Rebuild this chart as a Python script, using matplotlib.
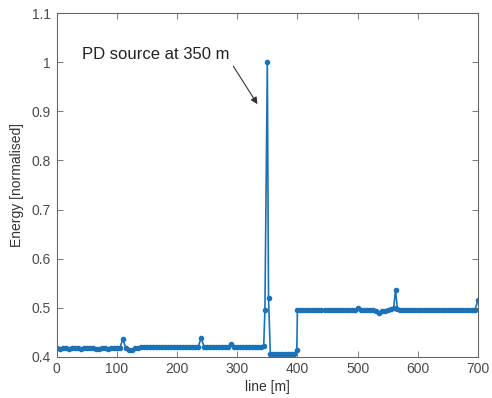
import matplotlib
matplotlib.use("Agg")
import matplotlib.pyplot as plt

plt.rcParams['font.family'] = ['Liberation Sans', 'DejaVu Sans']

# distance along line [m]
line_m = [0, 5, 10, 15, 20, 25, 30, 35, 40, 45, 50, 55, 60, 65, 70, 75, 80, 85, 90, 95,
          100, 105, 110, 115, 120, 125, 130, 135, 140, 145, 150, 155, 160, 165, 170, 175,
          180, 185, 190, 195, 200, 205, 210, 215, 220, 225, 230, 235, 240, 245, 250, 255,
          260, 265, 270, 275, 280, 285, 290, 295, 300, 305, 310, 315, 320, 325, 330, 335,
          340, 344, 346, 350, 352, 355, 360, 365, 370, 375, 380, 385, 390, 395, 399, 400,
          405, 410, 415, 420, 425, 430, 435, 440, 445, 450, 455, 460, 465, 470, 475, 480,
          485, 490, 495, 500, 505, 510, 515, 520, 525, 530, 535, 540, 545, 550, 555, 560,
          563, 566, 570, 575, 580, 585, 590, 595, 600, 605, 610, 615, 620, 625, 630, 635,
          640, 645, 650, 655, 660, 665, 670, 675, 680, 685, 690, 695, 700]

# normalised energy
energy = [0.417, 0.416, 0.417, 0.417, 0.416, 0.417, 0.417, 0.417, 0.416, 0.417, 0.418, 0.417,
          0.417, 0.416, 0.416, 0.417, 0.417, 0.416, 0.417, 0.417, 0.417, 0.418, 0.436, 0.417,
          0.413, 0.414, 0.417, 0.418, 0.419, 0.419, 0.419, 0.420, 0.419, 0.419, 0.419, 0.419,
          0.419, 0.419, 0.420, 0.419, 0.419, 0.419, 0.419, 0.419, 0.419, 0.419, 0.419, 0.420,
          0.438, 0.420, 0.419, 0.419, 0.419, 0.419, 0.419, 0.419, 0.419, 0.419, 0.425, 0.420,
          0.420, 0.420, 0.420, 0.420, 0.420, 0.420, 0.420, 0.420, 0.420, 0.421, 0.496, 1.000,
          0.520, 0.406, 0.405, 0.405, 0.405, 0.405, 0.405, 0.405, 0.405, 0.406, 0.414, 0.495,
          0.495, 0.495, 0.495, 0.495, 0.495, 0.495, 0.495, 0.495, 0.495, 0.495, 0.495, 0.495,
          0.495, 0.495, 0.495, 0.495, 0.495, 0.495, 0.495, 0.500, 0.495, 0.495, 0.495, 0.495,
          0.495, 0.494, 0.490, 0.493, 0.494, 0.495, 0.497, 0.500, 0.536, 0.498, 0.495, 0.495,
          0.495, 0.495, 0.495, 0.495, 0.495, 0.495, 0.495, 0.495, 0.495, 0.495, 0.495, 0.495,
          0.495, 0.495, 0.495, 0.495, 0.495, 0.495, 0.495, 0.495, 0.495, 0.495, 0.495, 0.496,
          0.515]

x_ticks = [0, 100, 200, 300, 400, 500, 600, 700]
y_ticks = [0.4, 0.5, 0.6, 0.7, 0.8, 0.9, 1.0, 1.1]
y_tick_labels = ['0.4', '0.5', '0.6', '0.7', '0.8', '0.9', '1', '1.1']

fig = plt.figure(figsize=(4.92, 3.98), dpi=100)
ax = fig.add_axes([0.1152, 0.1038, 0.8563, 0.8628])

ax.plot(line_m, energy, '.-', color='#1a72b8', lw=1.2, ms=6)

ax.set_xlim(0, 700)
ax.set_ylim(0.4, 1.1)
ax.set_xticks(x_ticks)
ax.set_yticks(y_ticks)
ax.set_yticklabels(y_tick_labels)

axis_col = '#666666'
for s in ax.spines.values():
    s.set_color(axis_col)
    s.set_linewidth(0.8)
ax.tick_params(direction='in', length=4, width=0.6, color=axis_col, labelcolor='#4a4a4a',
               labelsize=10, top=True, right=True, pad=4)

ax.set_xlabel('line [m]', fontsize=10, color='#333333', labelpad=3)
ax.set_ylabel('Energy [normalised]', fontsize=10, color='#333333', labelpad=6)

ax.text(42, 1.017, 'PD source at 350 m', fontsize=12, color='#222222', va='center', ha='left')
ax.annotate('', xy=(336, 0.91), xytext=(291, 0.997),
            arrowprops=dict(arrowstyle='-|>', color='#333333', lw=0.8, mutation_scale=10))

fig.savefig('out.png', dpi=100)
